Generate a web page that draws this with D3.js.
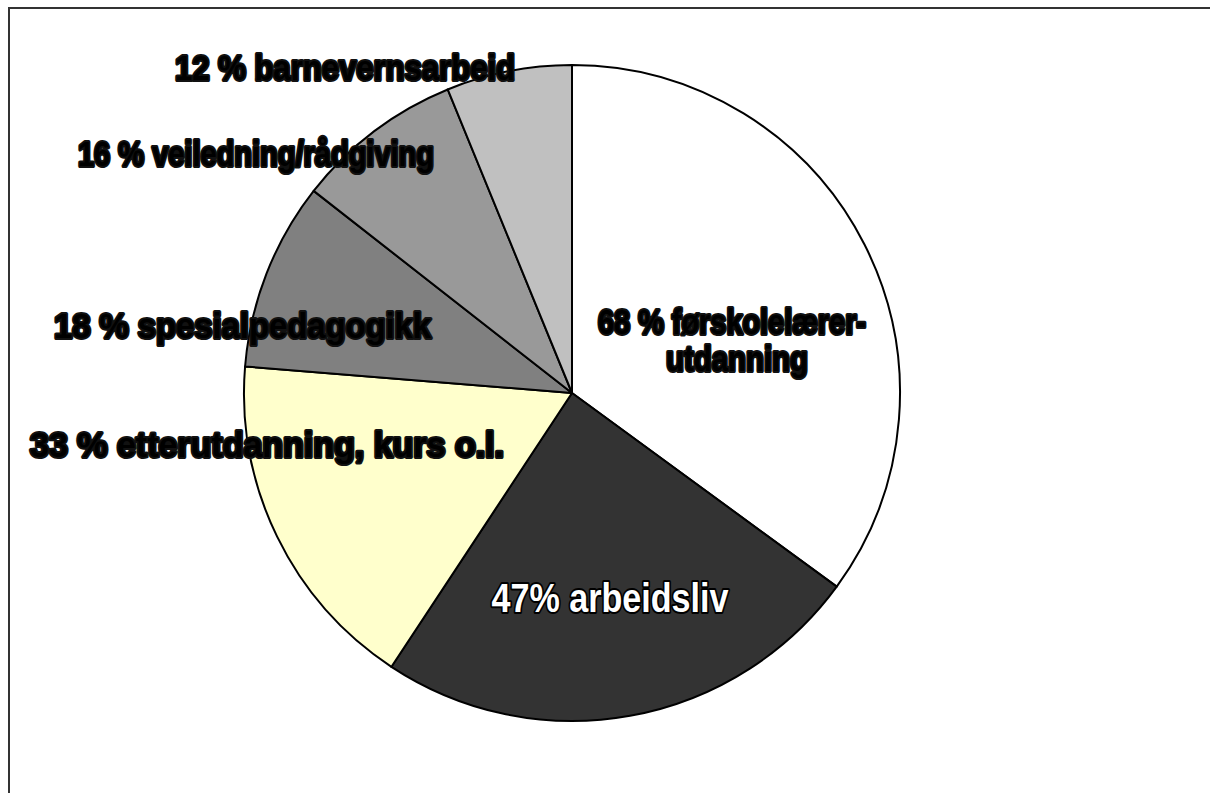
<!DOCTYPE html>
<html><head><meta charset="utf-8">
<script src="https://cdn.jsdelivr.net/npm/d3@7"></script>
<style>html,body{margin:0;padding:0;background:#fff;overflow:hidden}</style>
</head><body>
<script>
const categories = ["førskolelærerutdanning","arbeidsliv","etterutdanning, kurs o.l.","spesialpedagogikk","veiledning/rådgiving","barnevernsarbeid"];
const values = [68, 47, 33, 18, 16, 12];
const colors = ["#FFFFFF","#333333","#FFFFCC","#808080","#999999","#C0C0C0"];
const labelLines = [
  ["68 % førskolelærer-","utdanning"],
  ["47% arbeidsliv"],
  ["33 % etterutdanning, kurs o.l."],
  ["18 % spesialpedagogikk"],
  ["16 % veiledning/rådgiving"],
  ["12 % barnevernsarbeid"]
];

const W = 1210, H = 793;
const svg = d3.select("body").append("svg").attr("width", W).attr("height", H);
svg.append("rect").attr("x", 9).attr("y", 8).attr("width", 1300).attr("height", 900)
  .attr("fill", "#fff").attr("stroke", "#333").attr("stroke-width", 2);

const cx = 572, cy = 393, r = 328;
const pie = d3.pie().sort(null).value(d => d)(values);
const arc = d3.arc().innerRadius(0).outerRadius(r);
const g = svg.append("g").attr("transform", `translate(${cx},${cy})`);
g.selectAll("path").data(pie).join("path")
  .attr("d", arc).attr("fill", (d,i) => colors[i])
  .attr("stroke", "#000").attr("stroke-width", 2).attr("stroke-linejoin", "round");

// layout of labels: position of each line (x = left or centre, y = baseline) and its drawn width
const labelLayout = [
  [{x: 732, y: 334, w: 268, a: "middle"}, {x: 737, y: 371, w: 142, a: "middle"}],
  [{x: 610, y: 612, w: 237, a: "middle"}],
  [{x: 30, y: 457, w: 474, a: "start"}],
  [{x: 54, y: 338, w: 377, a: "start"}],
  [{x: 78, y: 166, w: 356, a: "start"}],
  [{x: 175, y: 80, w: 340, a: "start"}]
];
const font = "'Liberation Sans',Arial,sans-serif";
const lg = svg.append("g");
labelLines.forEach((lines, i) => {
  const white = i === 1;
  lines.forEach((ln, j) => {
    const p = labelLayout[i][j];
    lg.append("text")
      .attr("x", p.x).attr("y", p.y)
      .attr("text-anchor", p.a)
      .attr("font-family", font)
      .attr("font-weight", "bold")
      .attr("font-size", white ? 41 : 35)
      .attr("textLength", p.w)
      .attr("lengthAdjust", "spacingAndGlyphs")
      .attr("fill", white ? "#fff" : "#000")
      .attr("stroke", white ? "#000" : "#111")
      .attr("stroke-width", white ? 4 : 4)
      .attr("stroke-linejoin", "round")
      .attr("paint-order", "stroke")
      .text(ln);
  });
});
</script>
</body></html>
